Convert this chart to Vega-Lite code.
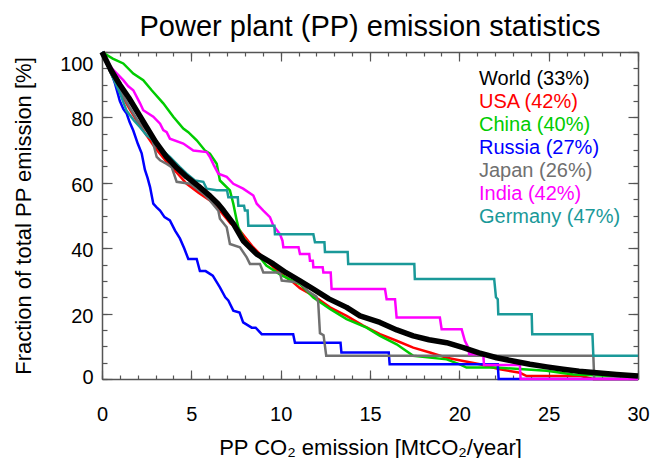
{
  "$schema": "https://vega.github.io/schema/vega-lite/v6.json",
  "width": 536,
  "height": 327,
  "autosize": "none",
  "padding": {"left": 102, "top": 52, "right": 14, "bottom": 79},
  "background": "white",
  "title": {"text": "Power plant (PP) emission statistics", "fontSize": 29, "font": "Liberation Sans", "fontWeight": "normal", "color": "black", "anchor": "middle", "baseline": "alphabetic", "offset": 17, "dy": 35},
  "config": {
    "font": "Liberation Sans",
    "view": {"stroke": null},
    "axis": {"domainColor": "#555555", "tickColor": "#555555", "domainWidth": 1.5, "tickWidth": 1.2, "grid": false, "labelColor": "black", "titleColor": "black", "labelFont": "Liberation Sans", "titleFont": "Liberation Sans", "titleFontWeight": "normal", "labelFlush": false, "labelOverlap": false}
  },
  "data": {"values": [
    {"s":"World (33%)","x":0,"y":100},{"s":"World (33%)","x":0.5,"y":94.5},{"s":"World (33%)","x":1,"y":90},{"s":"World (33%)","x":1.5,"y":86},{"s":"World (33%)","x":2,"y":81.5},{"s":"World (33%)","x":2.5,"y":77},{"s":"World (33%)","x":3,"y":72.5},{"s":"World (33%)","x":3.6,"y":68},{"s":"World (33%)","x":4.2,"y":64.5},{"s":"World (33%)","x":4.74,"y":61.8},{"s":"World (33%)","x":5.4,"y":59},{"s":"World (33%)","x":6.04,"y":56},{"s":"World (33%)","x":6.5,"y":53.5},{"s":"World (33%)","x":6.8,"y":51.5},{"s":"World (33%)","x":7.35,"y":47.5},{"s":"World (33%)","x":7.9,"y":42.3},{"s":"World (33%)","x":8.66,"y":38.2},{"s":"World (33%)","x":9.59,"y":35.2},{"s":"World (33%)","x":10.3,"y":32.5},{"s":"World (33%)","x":11.08,"y":30},{"s":"World (33%)","x":11.83,"y":27.5},{"s":"World (33%)","x":12.7,"y":24.5},{"s":"World (33%)","x":13.69,"y":21.9},{"s":"World (33%)","x":14.44,"y":19.3},{"s":"World (33%)","x":15.56,"y":17.3},{"s":"World (33%)","x":16.5,"y":15},{"s":"World (33%)","x":17.42,"y":13.2},{"s":"World (33%)","x":18.3,"y":12},{"s":"World (33%)","x":19.29,"y":11.1},{"s":"World (33%)","x":20.22,"y":9.6},{"s":"World (33%)","x":21.1,"y":8},{"s":"World (33%)","x":22.09,"y":6.5},{"s":"World (33%)","x":23,"y":5.5},{"s":"World (33%)","x":23.95,"y":4.5},{"s":"World (33%)","x":24.9,"y":3.7},{"s":"World (33%)","x":25.81,"y":3},{"s":"World (33%)","x":26.7,"y":2.4},{"s":"World (33%)","x":27.68,"y":1.9},{"s":"World (33%)","x":28.8,"y":1.4},{"s":"World (33%)","x":30,"y":0.9},

    {"s":"USA (42%)","x":0,"y":100},{"s":"USA (42%)","x":0.5,"y":93.5},{"s":"USA (42%)","x":1,"y":88},{"s":"USA (42%)","x":1.5,"y":83},{"s":"USA (42%)","x":2,"y":78.5},{"s":"USA (42%)","x":2.31,"y":76},{"s":"USA (42%)","x":3,"y":70.5},{"s":"USA (42%)","x":3.6,"y":66.5},{"s":"USA (42%)","x":4.2,"y":63},{"s":"USA (42%)","x":4.74,"y":59.7},{"s":"USA (42%)","x":5.4,"y":57},{"s":"USA (42%)","x":6.04,"y":54.6},{"s":"USA (42%)","x":6.6,"y":51.5},{"s":"USA (42%)","x":7.2,"y":47.5},{"s":"USA (42%)","x":7.72,"y":45.4},{"s":"USA (42%)","x":8.46,"y":40.3},{"s":"USA (42%)","x":9.2,"y":36.2},{"s":"USA (42%)","x":9.96,"y":32.3},{"s":"USA (42%)","x":10.6,"y":30},{"s":"USA (42%)","x":11.08,"y":27.8},{"s":"USA (42%)","x":11.83,"y":25.5},{"s":"USA (42%)","x":12.76,"y":21.9},{"s":"USA (42%)","x":13.69,"y":19.3},{"s":"USA (42%)","x":14.62,"y":16.3},{"s":"USA (42%)","x":15.56,"y":13.7},{"s":"USA (42%)","x":16.49,"y":11.7},{"s":"USA (42%)","x":17.42,"y":9.6},{"s":"USA (42%)","x":18.35,"y":8.1},{"s":"USA (42%)","x":19.29,"y":6.5},{"s":"USA (42%)","x":20.22,"y":5.5},{"s":"USA (42%)","x":21.15,"y":4.5},{"s":"USA (42%)","x":22.27,"y":3},{"s":"USA (42%)","x":23.39,"y":1.9},{"s":"USA (42%)","x":23.77,"y":0.9},{"s":"USA (42%)","x":26.8,"y":0.9},{"s":"USA (42%)","x":27.5,"y":0},{"s":"USA (42%)","x":30,"y":0},

    {"s":"China (40%)","x":0,"y":100},{"s":"China (40%)","x":0.6,"y":98},{"s":"China (40%)","x":1.19,"y":96.5},{"s":"China (40%)","x":1.75,"y":93.4},{"s":"China (40%)","x":2.31,"y":91.4},{"s":"China (40%)","x":2.78,"y":88.3},{"s":"China (40%)","x":3.43,"y":84.3},{"s":"China (40%)","x":3.99,"y":80.2},{"s":"China (40%)","x":4.55,"y":76.6},{"s":"China (40%)","x":4.83,"y":75.5},{"s":"China (40%)","x":5.3,"y":73},{"s":"China (40%)","x":5.76,"y":69.9},{"s":"China (40%)","x":6.04,"y":68.9},{"s":"China (40%)","x":6.42,"y":65.8},{"s":"China (40%)","x":6.6,"y":60.7},{"s":"China (40%)","x":7.16,"y":57.7},{"s":"China (40%)","x":7.35,"y":53.6},{"s":"China (40%)","x":7.54,"y":48.5},{"s":"China (40%)","x":7.63,"y":46.4},{"s":"China (40%)","x":7.9,"y":43.3},{"s":"China (40%)","x":8.3,"y":40.5},{"s":"China (40%)","x":8.84,"y":37.2},{"s":"China (40%)","x":9.2,"y":34.7},{"s":"China (40%)","x":9.96,"y":32},{"s":"China (40%)","x":10.5,"y":30.5},{"s":"China (40%)","x":11.08,"y":29},{"s":"China (40%)","x":11.83,"y":24.9},{"s":"China (40%)","x":12.76,"y":21.4},{"s":"China (40%)","x":13.69,"y":18.3},{"s":"China (40%)","x":14.81,"y":15.7},{"s":"China (40%)","x":15.56,"y":13.2},{"s":"China (40%)","x":16.49,"y":10.6},{"s":"China (40%)","x":17.42,"y":7.1},{"s":"China (40%)","x":19.29,"y":6},{"s":"China (40%)","x":20.03,"y":4.5},{"s":"China (40%)","x":20.4,"y":3.5},{"s":"China (40%)","x":22.09,"y":3.5},{"s":"China (40%)","x":24.88,"y":2.5},{"s":"China (40%)","x":26.37,"y":1.4},{"s":"China (40%)","x":28.6,"y":0.9},{"s":"China (40%)","x":30,"y":0.6},

    {"s":"Russia (27%)","x":0,"y":100},{"s":"Russia (27%)","x":0.3,"y":96},{"s":"Russia (27%)","x":0.54,"y":93.4},{"s":"Russia (27%)","x":0.73,"y":90.3},{"s":"Russia (27%)","x":1,"y":85},{"s":"Russia (27%)","x":1.2,"y":82.5},{"s":"Russia (27%)","x":1.38,"y":81.2},{"s":"Russia (27%)","x":1.55,"y":78.5},{"s":"Russia (27%)","x":1.75,"y":76},{"s":"Russia (27%)","x":2,"y":72},{"s":"Russia (27%)","x":2.22,"y":69},{"s":"Russia (27%)","x":2.4,"y":64},{"s":"Russia (27%)","x":2.55,"y":61.5},{"s":"Russia (27%)","x":2.69,"y":58.7},{"s":"Russia (27%)","x":2.87,"y":53.6},{"s":"Russia (27%)","x":3.06,"y":52.5},{"s":"Russia (27%)","x":3.25,"y":51.5},{"s":"Russia (27%)","x":3.5,"y":49.5},{"s":"Russia (27%)","x":3.8,"y":48.5},{"s":"Russia (27%)","x":4.09,"y":45.4},{"s":"Russia (27%)","x":4.36,"y":43},{"s":"Russia (27%)","x":4.6,"y":40},{"s":"Russia (27%)","x":4.83,"y":36.7},{"s":"Russia (27%)","x":5.3,"y":36.7},{"s":"Russia (27%)","x":5.48,"y":33},{"s":"Russia (27%)","x":5.8,"y":33},{"s":"Russia (27%)","x":6.2,"y":31.6},{"s":"Russia (27%)","x":6.6,"y":28},{"s":"Russia (27%)","x":6.9,"y":25},{"s":"Russia (27%)","x":7.07,"y":24},{"s":"Russia (27%)","x":7.35,"y":20.9},{"s":"Russia (27%)","x":7.7,"y":20.3},{"s":"Russia (27%)","x":7.9,"y":17.3},{"s":"Russia (27%)","x":8.38,"y":15.7},{"s":"Russia (27%)","x":8.6,"y":15.7},{"s":"Russia (27%)","x":8.94,"y":13.7},{"s":"Russia (27%)","x":10.7,"y":13.7},{"s":"Russia (27%)","x":10.8,"y":11.1},{"s":"Russia (27%)","x":13.35,"y":11.1},{"s":"Russia (27%)","x":13.4,"y":8.1},{"s":"Russia (27%)","x":16.05,"y":8.1},{"s":"Russia (27%)","x":16.1,"y":4.5},{"s":"Russia (27%)","x":22.15,"y":4.5},{"s":"Russia (27%)","x":22.2,"y":0},{"s":"Russia (27%)","x":30,"y":0},

    {"s":"Japan (26%)","x":0,"y":100},{"s":"Japan (26%)","x":0.5,"y":93.5},{"s":"Japan (26%)","x":1,"y":88.5},{"s":"Japan (26%)","x":1.5,"y":83.5},{"s":"Japan (26%)","x":2,"y":79},{"s":"Japan (26%)","x":2.5,"y":76},{"s":"Japan (26%)","x":2.78,"y":74},{"s":"Japan (26%)","x":2.87,"y":72},{"s":"Japan (26%)","x":3.06,"y":67.9},{"s":"Japan (26%)","x":3.25,"y":66.9},{"s":"Japan (26%)","x":3.62,"y":65.8},{"s":"Japan (26%)","x":3.9,"y":64.8},{"s":"Japan (26%)","x":4.18,"y":60.3},{"s":"Japan (26%)","x":4.92,"y":59.7},{"s":"Japan (26%)","x":5.3,"y":58.2},{"s":"Japan (26%)","x":5.7,"y":56.5},{"s":"Japan (26%)","x":6.04,"y":54.6},{"s":"Japan (26%)","x":6.51,"y":51.5},{"s":"Japan (26%)","x":6.6,"y":49},{"s":"Japan (26%)","x":6.98,"y":46.4},{"s":"Japan (26%)","x":7.16,"y":41.3},{"s":"Japan (26%)","x":7.72,"y":40.3},{"s":"Japan (26%)","x":8.1,"y":37.2},{"s":"Japan (26%)","x":8.28,"y":35.2},{"s":"Japan (26%)","x":8.84,"y":35.2},{"s":"Japan (26%)","x":9.03,"y":32.6},{"s":"Japan (26%)","x":9.96,"y":32.6},{"s":"Japan (26%)","x":10.06,"y":30.1},{"s":"Japan (26%)","x":11.08,"y":29.5},{"s":"Japan (26%)","x":11.5,"y":27},{"s":"Japan (26%)","x":12,"y":25.2},{"s":"Japan (26%)","x":12.1,"y":23.5},{"s":"Japan (26%)","x":12.2,"y":14},{"s":"Japan (26%)","x":12.4,"y":13.4},{"s":"Japan (26%)","x":12.55,"y":7.1},{"s":"Japan (26%)","x":27.5,"y":7.1},{"s":"Japan (26%)","x":27.55,"y":0},{"s":"Japan (26%)","x":30,"y":0},

    {"s":"India (42%)","x":0,"y":100},{"s":"India (42%)","x":0.3,"y":97},{"s":"India (42%)","x":0.63,"y":94.5},{"s":"India (42%)","x":1.19,"y":91.4},{"s":"India (42%)","x":1.47,"y":89.5},{"s":"India (42%)","x":1.75,"y":88.3},{"s":"India (42%)","x":2.13,"y":84.3},{"s":"India (42%)","x":2.31,"y":82.2},{"s":"India (42%)","x":2.87,"y":80.2},{"s":"India (42%)","x":3.25,"y":78.1},{"s":"India (42%)","x":3.43,"y":76.1},{"s":"India (42%)","x":3.62,"y":75.5},{"s":"India (42%)","x":3.8,"y":73.5},{"s":"India (42%)","x":4.55,"y":72},{"s":"India (42%)","x":5.11,"y":69.9},{"s":"India (42%)","x":5.86,"y":69.4},{"s":"India (42%)","x":6.04,"y":67.9},{"s":"India (42%)","x":6.25,"y":65.5},{"s":"India (42%)","x":6.51,"y":62.8},{"s":"India (42%)","x":6.98,"y":61.8},{"s":"India (42%)","x":7.35,"y":59.7},{"s":"India (42%)","x":7.9,"y":58.2},{"s":"India (42%)","x":8.47,"y":56.1},{"s":"India (42%)","x":8.66,"y":53.6},{"s":"India (42%)","x":9.03,"y":51.5},{"s":"India (42%)","x":9.4,"y":49.5},{"s":"India (42%)","x":9.59,"y":46.9},{"s":"India (42%)","x":9.96,"y":44.3},{"s":"India (42%)","x":10.1,"y":42.3},{"s":"India (42%)","x":10.15,"y":40.3},{"s":"India (42%)","x":11,"y":40.3},{"s":"India (42%)","x":11.08,"y":38.2},{"s":"India (42%)","x":11.6,"y":38.2},{"s":"India (42%)","x":11.64,"y":36.2},{"s":"India (42%)","x":11.8,"y":36.2},{"s":"India (42%)","x":11.83,"y":34.2},{"s":"India (42%)","x":12.35,"y":34.2},{"s":"India (42%)","x":12.39,"y":32.6},{"s":"India (42%)","x":12.8,"y":32.6},{"s":"India (42%)","x":12.85,"y":27.5},{"s":"India (42%)","x":15.84,"y":27.5},{"s":"India (42%)","x":15.93,"y":24.4},{"s":"India (42%)","x":16.4,"y":24.4},{"s":"India (42%)","x":16.49,"y":18.8},{"s":"India (42%)","x":18.91,"y":18.8},{"s":"India (42%)","x":19.01,"y":15.2},{"s":"India (42%)","x":20.13,"y":15.2},{"s":"India (42%)","x":20.31,"y":11.7},{"s":"India (42%)","x":20.5,"y":9.6},{"s":"India (42%)","x":20.55,"y":7.6},{"s":"India (42%)","x":21.34,"y":7.6},{"s":"India (42%)","x":21.38,"y":4.3},{"s":"India (42%)","x":23.39,"y":4.3},{"s":"India (42%)","x":23.43,"y":0},{"s":"India (42%)","x":30,"y":0},

    {"s":"Germany (47%)","x":0,"y":100},{"s":"Germany (47%)","x":0.5,"y":93.5},{"s":"Germany (47%)","x":1,"y":87.5},{"s":"Germany (47%)","x":1.38,"y":82},{"s":"Germany (47%)","x":1.8,"y":79},{"s":"Germany (47%)","x":2.13,"y":77},{"s":"Germany (47%)","x":2.5,"y":74.5},{"s":"Germany (47%)","x":2.87,"y":73},{"s":"Germany (47%)","x":3.25,"y":70.5},{"s":"Germany (47%)","x":3.8,"y":67.9},{"s":"Germany (47%)","x":4.36,"y":64.8},{"s":"Germany (47%)","x":4.74,"y":62.8},{"s":"Germany (47%)","x":5.2,"y":60.7},{"s":"Germany (47%)","x":5.67,"y":60.3},{"s":"Germany (47%)","x":5.86,"y":58.2},{"s":"Germany (47%)","x":6.42,"y":57.7},{"s":"Germany (47%)","x":7,"y":57.7},{"s":"Germany (47%)","x":7.07,"y":55.6},{"s":"Germany (47%)","x":7.6,"y":55.6},{"s":"Germany (47%)","x":7.63,"y":53},{"s":"Germany (47%)","x":7.95,"y":53},{"s":"Germany (47%)","x":8,"y":51.5},{"s":"Germany (47%)","x":8.15,"y":51.5},{"s":"Germany (47%)","x":8.19,"y":46.9},{"s":"Germany (47%)","x":9.65,"y":46.9},{"s":"Germany (47%)","x":9.68,"y":44.3},{"s":"Germany (47%)","x":11.83,"y":44.3},{"s":"Germany (47%)","x":11.92,"y":41.8},{"s":"Germany (47%)","x":12.45,"y":41.8},{"s":"Germany (47%)","x":12.48,"y":38.8},{"s":"Germany (47%)","x":13.75,"y":38.8},{"s":"Germany (47%)","x":13.78,"y":35.2},{"s":"Germany (47%)","x":17.48,"y":35.2},{"s":"Germany (47%)","x":17.51,"y":30.6},{"s":"Germany (47%)","x":21.95,"y":30.6},{"s":"Germany (47%)","x":22.05,"y":25},{"s":"Germany (47%)","x":22.15,"y":24.4},{"s":"Germany (47%)","x":22.18,"y":19.8},{"s":"Germany (47%)","x":24.05,"y":19.8},{"s":"Germany (47%)","x":24.08,"y":13.7},{"s":"Germany (47%)","x":27.45,"y":13.7},{"s":"Germany (47%)","x":27.5,"y":7.1},{"s":"Germany (47%)","x":30,"y":7.1}
  ]},
  "layer": [
    {
      "transform": [{"filter": "datum.s != 'World (33%)'"}],
      "mark": {"type": "line", "strokeWidth": 2.5, "strokeJoin": "miter"},
      "encoding": {
        "x": {"field": "x", "type": "quantitative", "scale": {"domain": [0, 30], "nice": false, "zero": false},
          "axis": {"orient": "bottom", "values": [0, 5, 10, 15, 20, 25, 30], "tickSize": -9, "labelPadding": 34, "labelFontSize": 20, "title": "PP CO₂ emission [MtCO₂/year]", "titleFontSize": 22, "titlePadding": 13}},
        "y": {"field": "y", "type": "quantitative", "scale": {"domain": [0, 100], "nice": false, "zero": false},
          "axis": {"orient": "left", "values": [0, 20, 40, 60, 80, 100], "tickSize": -10, "labelPadding": 19, "labelFontSize": 20, "labelOffset": {"expr": "datum.value == 100 ? 12 : datum.value == 0 ? -2 : 2.5"}, "title": "Fraction of total PP emission [%]", "titleFontSize": 22, "titlePadding": 24}},
        "color": {"field": "s", "type": "nominal",
          "scale": {"domain": ["World (33%)", "USA (42%)", "China (40%)", "Russia (27%)", "Japan (26%)", "India (42%)", "Germany (47%)"],
                    "range": ["#000000", "#ff0000", "#00cc00", "#0000ff", "#707070", "#ff00ff", "#1a9999"]},
          "legend": {"orient": "top-right", "offset": 17, "title": null, "symbolSize": 0, "symbolStrokeWidth": 0, "symbolOpacity": 0, "labelOffset": 0, "padding": 0, "rowPadding": 3, "labelFontSize": 20, "labelFont": "Liberation Sans", "labelLimit": 400,
            "encode": {"labels": {"update": {"fill": {"scale": "color", "field": "value"}}}}}}
      }
    },
    {
      "transform": [{"filter": "datum.s == 'World (33%)'"}],
      "mark": {"type": "line", "strokeWidth": 5.5, "strokeJoin": "round"},
      "encoding": {
        "x": {"field": "x", "type": "quantitative", "scale": {"domain": [0, 30], "nice": false, "zero": false},
          "axis": {"orient": "bottom", "values": [0,1,2,3,4,5,6,7,8,9,10,11,12,13,14,15,16,17,18,19,20,21,22,23,24,25,26,27,28,29,30], "tickSize": -4, "labels": false, "domain": false, "title": null}},
        "y": {"field": "y", "type": "quantitative", "scale": {"domain": [0, 100], "nice": false, "zero": false},
          "axis": {"orient": "left", "values": [0,5,10,15,20,25,30,35,40,45,50,55,60,65,70,75,80,85,90,95,100], "tickSize": -5, "labels": false, "domain": false, "title": null}},
        "color": {"field": "s", "type": "nominal"}
      }
    },
    {
      "transform": [{"filter": "datum.s == 'World (33%)'"}],
      "mark": {"type": "line", "opacity": 0},
      "encoding": {
        "x": {"field": "x", "type": "quantitative", "scale": {"domain": [0, 30], "nice": false, "zero": false},
          "axis": {"orient": "top", "values": [0, 5, 10, 15, 20, 25, 30], "tickSize": -9, "labels": false, "title": null}},
        "y": {"field": "y", "type": "quantitative", "scale": {"domain": [0, 100], "nice": false, "zero": false},
          "axis": {"orient": "right", "values": [0, 20, 40, 60, 80, 100], "tickSize": -10, "labels": false, "title": null}}
      }
    },
    {
      "transform": [{"filter": "datum.s == 'World (33%)'"}],
      "mark": {"type": "line", "opacity": 0},
      "encoding": {
        "x": {"field": "x", "type": "quantitative", "scale": {"domain": [0, 30], "nice": false, "zero": false},
          "axis": {"orient": "top", "values": [0,1,2,3,4,5,6,7,8,9,10,11,12,13,14,15,16,17,18,19,20,21,22,23,24,25,26,27,28,29,30], "tickSize": -4, "labels": false, "domain": false, "title": null}},
        "y": {"field": "y", "type": "quantitative", "scale": {"domain": [0, 100], "nice": false, "zero": false},
          "axis": {"orient": "right", "values": [0,5,10,15,20,25,30,35,40,45,50,55,60,65,70,75,80,85,90,95,100], "tickSize": -5, "labels": false, "domain": false, "title": null}}
      }
    }
  ],
  "resolve": {"axis": {"x": "independent", "y": "independent"}}
}
